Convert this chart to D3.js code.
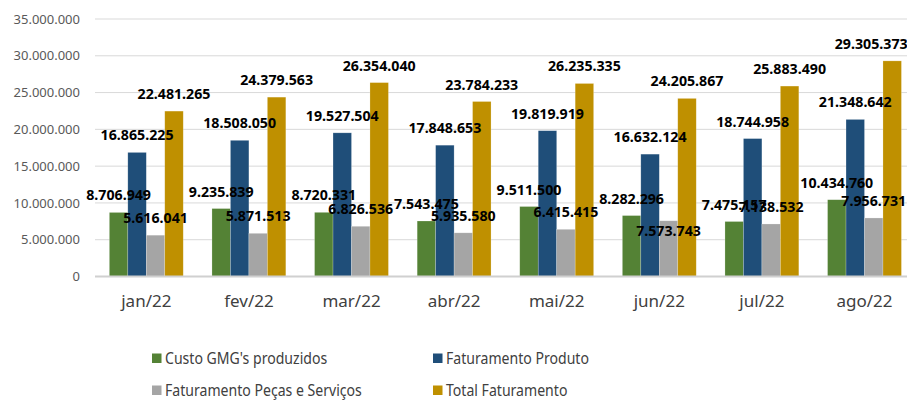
<!DOCTYPE html>
<html><head><meta charset="utf-8">
<script src="https://cdn.jsdelivr.net/npm/d3@7"></script>
<style>html,body{margin:0;padding:0;background:#fff;overflow:hidden}</style>
</head><body><svg id="c" width="907" height="401"></svg>
<script>
const categories = ["jan/22","fev/22","mar/22","abr/22","mai/22","jun/22","jul/22","ago/22"];
const seriesNames = ["Custo GMG's produzidos","Faturamento Produto","Faturamento Peças e Serviços","Total Faturamento"];
const custoGMG = [8706949, 9235839, 8720331, 7543475, 9511500, 8282296, 7475157, 10434760];
const fatProduto = [16865225, 18508050, 19527504, 17848653, 19819919, 16632124, 18744958, 21348642];
const fatPecas = [5616041, 5871513, 6826536, 5935580, 6415415, 7573743, 7138532, 7956731];
const totalFat = [22481265, 24379563, 26354040, 23784233, 26235335, 24205867, 25883490, 29305373];
const yTicks = [0,5000000,10000000,15000000,20000000,25000000,30000000,35000000];

const seriesValues = [custoGMG, fatProduto, fatPecas, totalFat];
const colors = ["#548235","#1F4E79","#A5A5A5","#BF9000"];
// manual label nudges (series index - category index) -> [dx, dy]
const labelNudge = {"2-5": [0, 27], "3-7": [-21, 0]};

const svg = d3.select("#c");
const left = 95, step = 102.6;
const x0 = d3.scaleBand().domain(categories).range([left, left + step*8]).paddingInner(0.28).paddingOuter(0.14);
const x1 = d3.scaleBand().domain(d3.range(4)).range([0, x0.bandwidth()]);
const y = d3.scaleLinear().domain([0,35000000]).range([276.5,19]);
const fmt = v => d3.format(",")(v).replace(/,/g,".");

// gridlines
svg.append("g").selectAll("line").data(yTicks.filter(t=>t>0)).join("line")
  .attr("x1",left).attr("x2",907).attr("y1",d=>y(d)).attr("y2",d=>y(d))
  .attr("stroke","#d9d9d9").attr("stroke-width",1);

// y axis labels
const yAxis = d3.axisLeft(y).tickValues(yTicks).tickSize(0).tickPadding(0).tickFormat(fmt);
const ya = svg.append("g").attr("transform","translate(80,0)").call(yAxis);
ya.select(".domain").remove();
ya.selectAll("text").attr("font-family","Noto Sans, sans-serif").attr("font-size",13).attr("fill","#595959");

// bars
const groups = svg.append("g").selectAll("g").data(categories).join("g")
  .attr("transform",d=>`translate(${x0(d)},0)`);
groups.selectAll("rect").data((d,i)=>seriesValues.map((s,k)=>({k,v:s[i]}))).join("rect")
  .attr("x",d=>x1(d.k)).attr("width",x1.bandwidth())
  .attr("y",d=>y(d.v)).attr("height",d=>y(0)-y(d.v))
  .attr("fill",d=>colors[d.k]).attr("stroke","#ffffff").attr("stroke-opacity",0.35).attr("stroke-width",0.6);

// x axis line
svg.append("line").attr("x1",left).attr("x2",907).attr("y1",y(0)).attr("y2",y(0))
  .attr("stroke","#d0d0d0").attr("stroke-width",2);

// x axis labels
const xAxis = d3.axisBottom(x0).tickSize(0).tickPadding(0);
const xa = svg.append("g").attr("transform","translate(0,307)").call(xAxis);
xa.select(".domain").remove();
xa.selectAll("text").attr("dy",0).attr("font-family","Noto Sans, sans-serif").attr("font-size",17).attr("fill","#404040");

// value labels, series by series
const lab = svg.append("g");
seriesValues.forEach((s,k)=>{
  s.forEach((v,i)=>{
    const n = labelNudge[k+"-"+i] || [0,0];
    lab.append("text")
      .attr("x", x0(categories[i]) + x1(k) + x1.bandwidth()/2 + n[0])
      .attr("y", y(v) - 12 + n[1])
      .attr("text-anchor","middle")
      .attr("font-family","Noto Sans, sans-serif").attr("font-weight","bold")
      .attr("font-size",14.2).attr("fill","#000")
      .text(fmt(v));
  });
});

// legend
const legPos = [[152,364],[433,364],[152,396],[433,396]];
const leg = svg.append("g").selectAll("g").data(seriesNames).join("g")
  .attr("transform",(d,i)=>`translate(${legPos[i][0]},${legPos[i][1]})`);
leg.append("rect").attr("x",0).attr("y",-10.5).attr("width",9.5).attr("height",9.5).attr("fill",(d,i)=>colors[i]);
leg.append("text").attr("transform","translate(13,0) scale(0.88,1)").attr("x",0).attr("y",0)
  .attr("font-family","Noto Sans, sans-serif").attr("font-size",16).attr("fill","#404040").text(d=>d);
</script></body></html>
